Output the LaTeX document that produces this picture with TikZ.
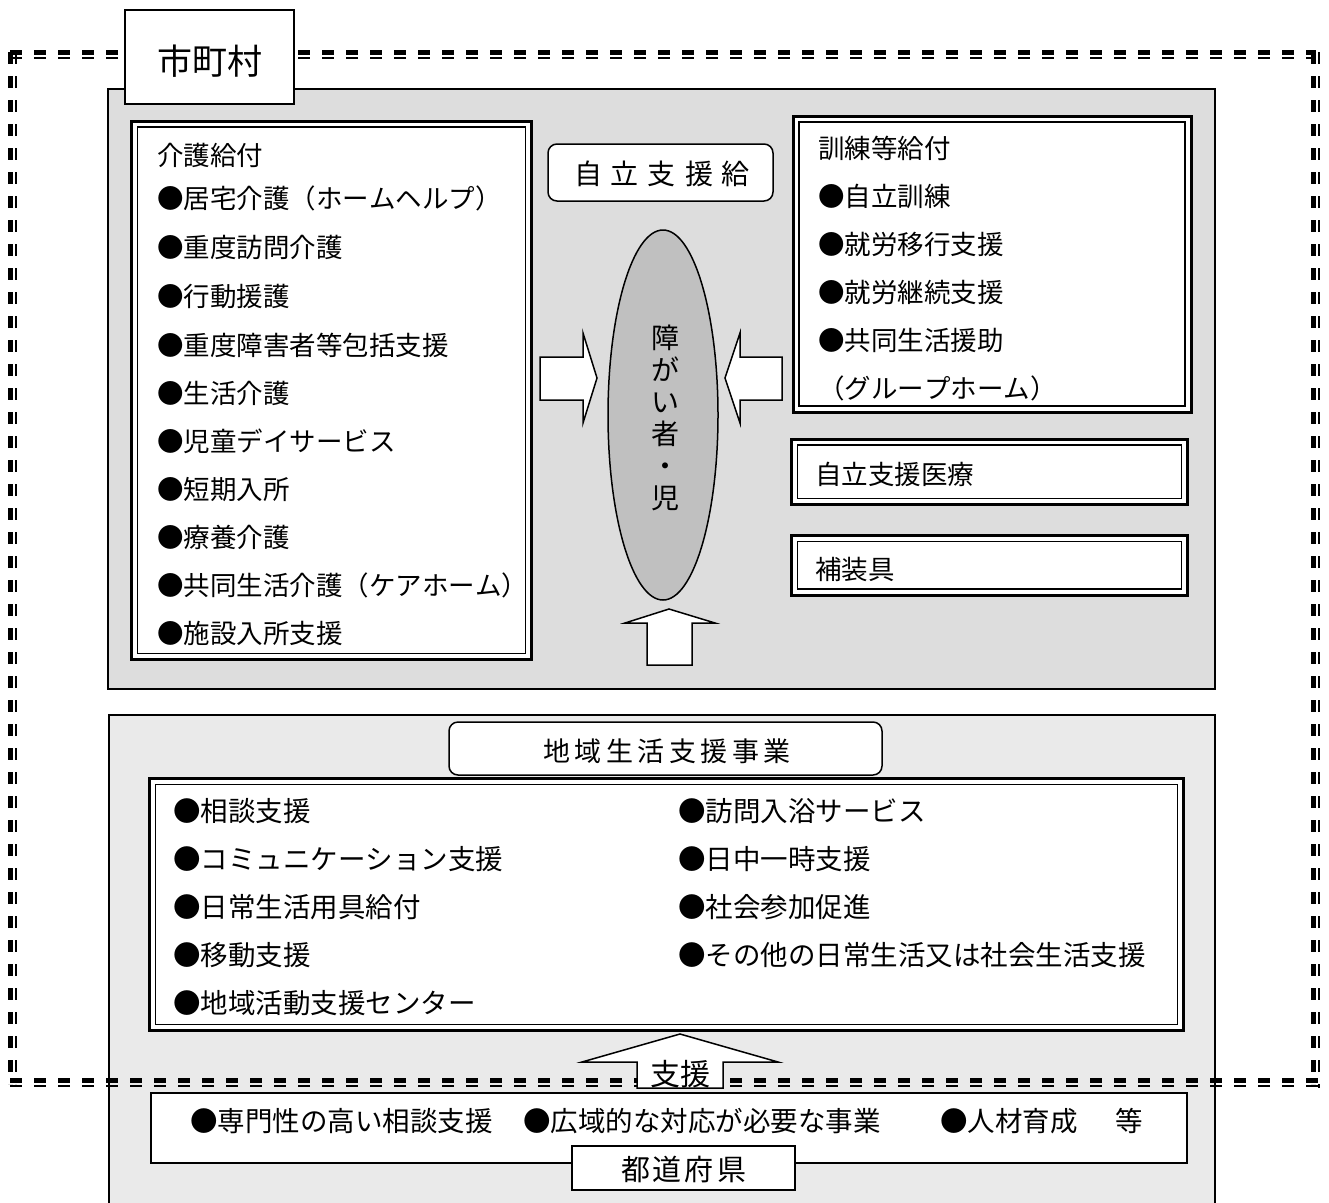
\documentclass[tikz,border=0pt]{standalone}
\usepackage{fontspec}
\setmainfont{Noto Sans CJK JP}[Kerning=Off]
\usetikzlibrary{shapes.geometric}
\definecolor{panelA}{HTML}{DDDDDD}
\definecolor{panelB}{HTML}{EAEAEA}
\definecolor{ellgray}{HTML}{C0C0C0}
\tikzset{
  panel/.style={draw=black, line width=1.5pt},
  outerbox/.style={draw=black, line width=3pt, fill=white, inner sep=0pt, outer sep=0pt},
  plainbox/.style={draw=black, line width=1.5pt, fill=white, inner sep=0pt, outer sep=0pt},
  roundbox/.style={draw=black, line width=1.5pt, fill=white, rounded corners=9pt, inner sep=0pt, outer sep=0pt},
  item/.style={anchor=west, inner sep=0pt, text height=0.88em, text depth=0.12em, yshift=-7pt, font=\fontsize{26.5pt}{30pt}\selectfont},
  itemL/.style={item, font=\fontsize{27.5pt}{31pt}\selectfont},
  blockarrow/.style={draw=black, line width=1.5pt, fill=white, line join=miter},
  thickdash/.style={line width=5pt, dash pattern=on 12pt off 12pt},
  thindash/.style={line width=2pt, dash pattern=on 12pt off 12pt},
}
\newcommand\dblbox[5]{%
  \node[outerbox, minimum width=#4pt, minimum height=#5pt] (#1) at (#2,#3) {};
  \draw[line width=1.3pt] ([shift={(6pt,-6pt)}]#1.north west) rectangle ([shift={(-6pt,6pt)}]#1.south east);
}
\begin{document}
\begin{tikzpicture}[x=1pt, y=-1pt]
\useasboundingbox[fill=white] (0,0) rectangle (1329,1202);
% panels
\node[panel, fill=panelA, minimum width=1107pt, minimum height=600pt, inner sep=0pt, outer sep=0pt] (upper) at (661.5,389) {};
\fill[panelB] (109,715) rectangle (1215,1210);
\draw[line width=1.5pt] (109,1210) -- (109,715) -- (1215,715) -- (1215,1210);
\coordinate (lowerpanel) at (662,715);
% dashed border (city)
\draw[thickdash] (10,52) -- (1316,52);
\draw[thindash] (10,58) -- (1316,58);
\draw[thickdash] (10,52) -- (10,1084);
\draw[thindash] (16,52) -- (16,1084);
\draw[thickdash] (1313,52) -- (1313,1084);
\draw[thindash] (1319,52) -- (1319,1088);
\draw[thickdash] (10,1080) -- (1320,1080);
\draw[thindash] (10,1086) -- (1320,1086);
% city label
\node[plainbox, minimum width=169pt, minimum height=94pt] (citybox) at (209.5,57) {};
\node[inner sep=0pt, font=\fontsize{35pt}{40pt}\selectfont] (city) at (210,61) {市町村};
% left box
\dblbox{kaigo}{331.5}{390.25}{400}{538.5}
\node[item] (k0) at (157,155) {介護給付};
\node[item] (k1) at (157,198) {●居宅介護（ホームヘルプ）};
\node[item] (k2) at (157,247) {●重度訪問介護};
\node[item] (k3) at (157,296) {●行動援護};
\node[item] (k4) at (157,345) {●重度障害者等包括支援};
\node[item] (k5) at (157,393) {●生活介護};
\node[item] (k6) at (157,441) {●児童デイサービス};
\node[item] (k7) at (157,489) {●短期入所};
\node[item] (k8) at (157,537) {●療養介護};
\node[item] (k9) at (157,585) {●共同生活介護（ケアホーム）};
\node[item] (k10) at (157,633) {●施設入所支援};
% right top box
\dblbox{kunren}{992}{264}{398}{296}
\node[item] (r0) at (818,148) {訓練等給付};
\node[item] (r1) at (818,196) {●自立訓練};
\node[item] (r2) at (818,244) {●就労移行支援};
\node[item] (r3) at (818,292) {●就労継続支援};
\node[item] (r4) at (818,340) {●共同生活援助};
\node[item] (r5) at (818,388) {（グループホーム）};
% medical and equipment boxes
\dblbox{iryo}{989.5}{471.75}{396}{65.5}
\node[item] (iryot) at (815,474) {自立支援医療};
\dblbox{sogu}{989.5}{565.25}{396}{59.5}
\node[item] (sogut) at (815,569) {補装具};
% jiritsu label
\node[roundbox, minimum width=225pt, minimum height=57pt] (jbox) at (660.5,172.5) {};
\node[inner sep=0pt, font=\fontsize{28pt}{32pt}\selectfont] (jtext) at (662,174) {自\hspace{9pt}立\hspace{9pt}支\hspace{9pt}援\hspace{9pt}給};
% person ellipse
\node[draw=black, line width=1.5pt, ellipse, fill=ellgray, minimum width=110pt, minimum height=370pt, inner sep=0pt] (person) at (663,415) {};
\node[inner sep=0pt, align=center, font=\fontsize{28pt}{32pt}\selectfont] (ptext) at (665,418) {障\\が\\い\\者\\・\\児};
% block arrows toward person
\draw[blockarrow] (540,357) -- (583,357) -- (583,333) -- (597,378) -- (583,423) -- (583,400) -- (540,400) -- cycle;
\draw[blockarrow] (782,357) -- (740,357) -- (740,333) -- (725,378) -- (740,423) -- (740,400) -- (782,400) -- cycle;
\draw[blockarrow] (647,665) -- (647,623) -- (625,623) -- (669,609) -- (715,623) -- (692,623) -- (692,665) -- cycle;
% community life support
\node[roundbox, minimum width=433pt, minimum height=53pt] (cbox) at (665.5,748.5) {};
\node[inner sep=0pt, font=\fontsize{27pt}{31pt}\selectfont] (ctext) at (667,751) {地\hspace{4.5pt}域\hspace{4.5pt}生\hspace{4.5pt}活\hspace{4.5pt}支\hspace{4.5pt}援\hspace{4.5pt}事\hspace{4.5pt}業};
\dblbox{chiiki}{666.5}{904.5}{1034}{252}
\node[itemL] (c1) at (173,811) {●相談支援};
\node[itemL] (c2) at (173,859) {●コミュニケーション支援};
\node[itemL] (c3) at (173,907) {●日常生活用具給付};
\node[itemL] (c4) at (173,955) {●移動支援};
\node[itemL] (c5) at (173,1003) {●地域活動支援センター};
\node[itemL] (c6) at (678,811) {●訪問入浴サービス};
\node[itemL] (c7) at (678,859) {●日中一時支援};
\node[itemL] (c8) at (678,907) {●社会参加促進};
\node[itemL] (c9) at (678,955) {●その他の日常生活又は社会生活支援};
% prefecture box
\node[plainbox, minimum width=1036pt, minimum height=70pt] (pref) at (669,1128) {};
\node[itemL] (p1) at (190,1121) {●専門性の高い相談支援};
\node[itemL] (p2) at (523,1121) {●広域的な対応が必要な事業};
\node[itemL] (p3) at (940,1121) {●人材育成};
\node[itemL] (p4) at (1115,1121) {等};
\node[plainbox, minimum width=223pt, minimum height=44pt] (prefbox) at (683.5,1168) {};
\node[inner sep=0pt, font=\fontsize{29pt}{33pt}\selectfont] (preft) at (683.5,1170) {都\hspace{3pt}道\hspace{3pt}府\hspace{3pt}県};
% support arrow
\draw[blockarrow] (637,1088) -- (637,1062) -- (582,1062) -- (680,1034) -- (778,1062) -- (723,1062) -- (723,1088) -- cycle;
\node[inner sep=0pt, font=\fontsize{30pt}{34pt}\selectfont] (shien) at (680,1074) {支援};
\end{tikzpicture}
\end{document}
